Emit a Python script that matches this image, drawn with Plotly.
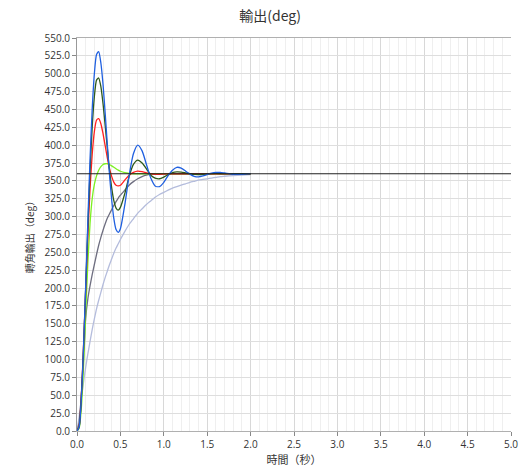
import plotly.graph_objects as go

# time axis (seconds)
time_s = [0, 0.025, 0.05, 0.075, 0.1, 0.125, 0.15, 0.175, 0.2, 0.225, 0.25, 0.275, 0.3, 0.325,
          0.35, 0.375, 0.4, 0.425, 0.45, 0.475, 0.5,
          0.55, 0.6, 0.65, 0.7, 0.75, 0.8, 0.85, 0.9, 0.95, 1.0, 1.05, 1.1, 1.15, 1.2, 1.25, 1.3,
          1.35, 1.4, 1.45, 1.5, 1.55, 1.6, 1.65, 1.7,
          1.8, 1.9, 2.0]

blue = [0, 6, 46, 116, 203, 294, 380, 450, 500, 527, 531, 515, 485, 444, 400, 358, 323, 297, 282, 278, 283,
        316, 357, 388, 400, 392, 373, 354, 343, 342, 348, 357.5, 365, 369, 368, 364, 359.5, 356.5, 355.7, 356.9,
        358.9, 360.9, 362.0, 361.9, 361.1,
        359.3, 359.2, 360.1]

dark_green = [0, 6, 47, 115, 199, 285, 362, 425, 468, 491, 494, 482, 458, 427, 395, 364, 340, 322, 312, 309, 313,
              332, 356, 373, 379, 375, 367, 358, 354, 353, 355.4, 358.8, 361.5, 362.6, 362.3, 361.2, 360, 359.2,
              359.0, 359.3, 359.8, 360.3, 360.5, 360.4, 360.2,
              360, 360, 360]

red = [0, 7, 50, 118, 197, 273, 338, 387, 419, 435, 437, 430, 416, 399, 382, 367, 356, 348, 344, 343, 344,
       351, 358, 362, 363.7, 362.9, 361.3, 360, 359.3, 359.3, 359.6, 359.9, 360, 360, 360, 360, 360, 360,
       360, 360, 360, 360, 360, 360, 360,
       360, 360, 360]

light_green = [0, 4, 32, 90, 165, 235, 290, 325, 345, 357, 365, 370, 373, 374, 374, 373, 371, 369, 367, 365, 363.5,
               361.5, 360.5, 360, 360, 360, 360, 360, 360, 360, 360, 360, 360, 360, 360, 360, 360, 360,
               360, 360, 360, 360, 360, 360, 360,
               360, 360, 360]

gray = [0, 12, 50, 100, 158, 185, 203, 219, 233, 247, 260, 271, 281, 290, 298, 304, 310, 316, 321, 326, 330,
        337, 344, 349, 353, 356, 358, 359, 359.6, 360, 360, 360, 360, 360, 360, 360, 360, 360,
        360, 360, 360, 360, 360, 360, 360,
        360, 360, 360]

lavender = [0, 20, 45, 68, 89, 108, 125, 142, 157, 171, 183, 194, 205, 215, 224, 233, 241, 249, 256, 262, 268,
            279, 289, 297, 305, 311, 317, 322, 327, 331, 334, 337, 340, 342, 344, 346, 348, 349.5,
            351, 352, 353, 354, 355, 356, 356.5,
            357.5, 358.3, 358.8]

setpoint_x = [0, 5]
setpoint_y = [360, 360]

series = [
    (lavender, "#b4bcdc"),
    (gray, "#6e6e80"),
    (light_green, "#7cf020"),
    (red, "#ff2020"),
    (dark_green, "#2e5a1c"),
    (blue, "#2060e0"),
]

fig = go.Figure()
for ys, col in series:
    fig.add_trace(go.Scatter(x=time_s, y=ys, mode="lines",
                             line=dict(color=col, width=1.3, shape="spline", smoothing=0.6),
                             showlegend=False, hoverinfo="skip"))
fig.add_trace(go.Scatter(x=setpoint_x, y=setpoint_y, mode="lines",
                         line=dict(color="#202020", width=1.2), showlegend=False, hoverinfo="skip"))

fig.update_layout(
    width=524, height=469,
    margin=dict(l=77, r=13, t=38, b=38, autoexpand=False),
    paper_bgcolor="white", plot_bgcolor="white",
    font=dict(family="Open Sans, Noto Sans CJK JP, sans-serif", size=10, color="#333333"),
    title=dict(text="輸出(deg)", x=0.445, xanchor="center", xref="paper",
               y=1 - 16 / 469, yref="container", yanchor="middle", automargin=False,
               font=dict(size=14, color="#333333", family="Noto Sans CJK JP, sans-serif")),
)
fig.update_xaxes(
    range=[0, 5], dtick=0.5, tickformat=".1f", tick0=0, automargin=False,
    showgrid=True, gridcolor="#d8d8d8", gridwidth=1,
    minor=dict(dtick=0.1, showgrid=True, gridcolor="#efefef", ticks=""),
    ticks="outside", ticklen=4, tickcolor="#888888",
    showline=True, linecolor="#b0b0b0", mirror=True, zeroline=False,
    title=dict(text="時間（秒）", standoff=4, font=dict(size=11, family="Noto Sans CJK JP, sans-serif")),
)
fig.update_yaxes(
    range=[0, 550], dtick=25, tickformat=".1f", tick0=0, automargin=False,
    showgrid=True, gridcolor="#dedede", gridwidth=1,
    ticks="outside", ticklen=4, tickcolor="#888888",
    showline=True, linecolor="#999999", zeroline=False,
    title=dict(text="轉角輸出（deg）", standoff=8, font=dict(size=10, family="Noto Sans CJK JP, sans-serif")),
)

fig.write_html("out.html", config={"displayModeBar": False},
               post_script="document.body.style.margin='0px';document.body.style.padding='0px';")
